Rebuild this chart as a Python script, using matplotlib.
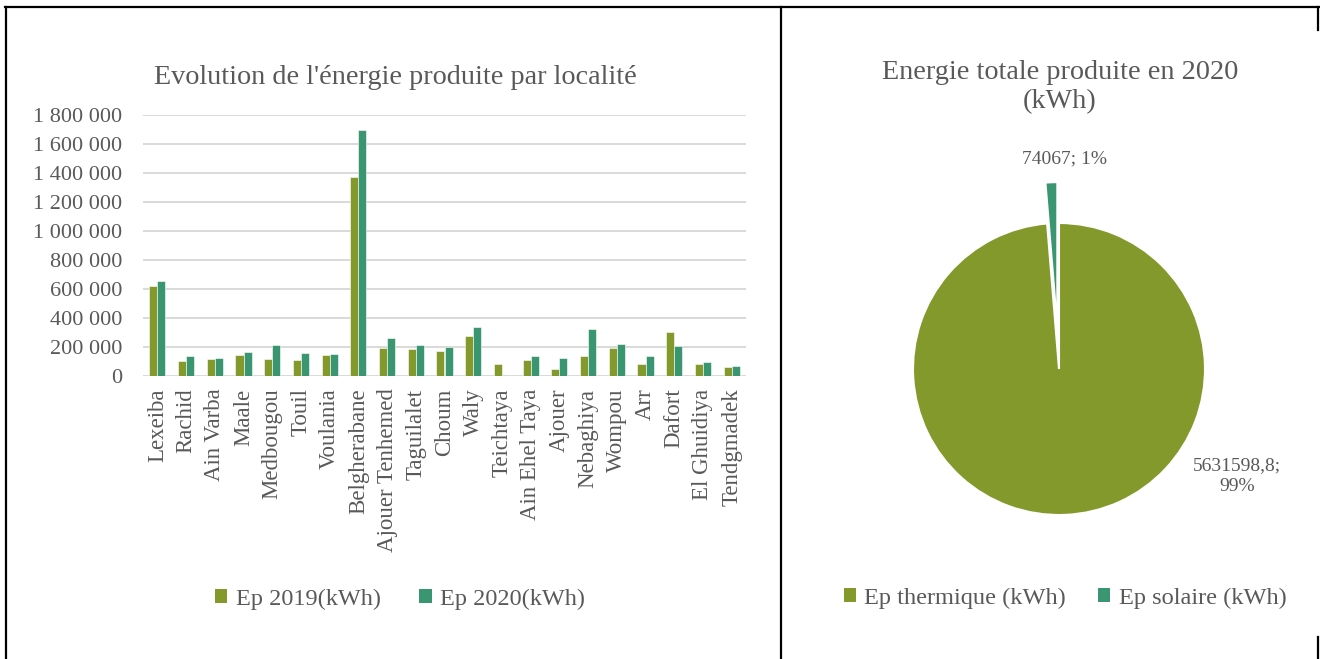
import matplotlib
matplotlib.use("Agg")
import matplotlib.pyplot as plt
from matplotlib.lines import Line2D
from matplotlib.patches import Patch
import numpy as np

# ---------------- data ----------------
localites = ["Lexeiba", "Rachid", "Ain Varba", "Maale", "Medbougou", "Touil", "Voulania",
             "Belgherabane", "Ajouer Tenhemed", "Taguilalet", "Choum", "Waly", "Teichtaya",
             "Ain Ehel Taya", "Ajouer", "Nebaghiya", "Wompou", "Arr", "Dafort",
             "El Ghuidiya", "Tendgmadek"]
ep_2019 = [623000, 101000, 115000, 148000, 115000, 112000, 143000,
           1370000, 193000, 184000, 170000, 279000, 81000,
           112000, 51000, 138000, 191000, 83000, 303000,
           81000, 60000]
ep_2020 = [653000, 136000, 122000, 166000, 212000, 161000, 154000,
           1695000, 260000, 216000, 198000, 336000, 8000,
           140000, 122000, 327000, 223000, 136000, 205000,
           94000, 67000]
yticks = [0, 200000, 400000, 600000, 800000, 1000000, 1200000, 1400000, 1600000, 1800000]
ytick_labels = ["0", "200 000", "400 000", "600 000", "800 000", "1 000 000",
                "1 200 000", "1 400 000", "1 600 000", "1 800 000"]

pie_labels = ["Ep thermique (kWh)", "Ep solaire (kWh)"]
pie_values = [5631598.8, 74067]
pie_texts = ["5631598,8;\n99%", "74067; 1%"]

C2019 = "#84992B"
C2020 = "#3A9670"
TXT = "#595959"
GRID = "#D9D9D9"
FONT = "Liberation Serif"

W, H = 1320, 659
fig = plt.figure(figsize=(W / 100, H / 100), dpi=100)
fig.patch.set_facecolor("white")

def fx(px):
    return px / W

def fy(py):
    return 1 - py / H

# ---------------- bar chart ----------------
ax = fig.add_axes([fx(143), fy(376), (746 - 143) / W, (376 - 115) / H])
x = np.arange(len(localites))
bw = 0.28
ax.bar(x - bw / 2, ep_2019, bw, color=C2019, edgecolor="white", linewidth=0.4, zorder=3)
ax.bar(x + bw / 2, ep_2020, bw, color=C2020, edgecolor="white", linewidth=0.4, zorder=3)
ax.set_xlim(-0.5, len(localites) - 0.5)
ax.set_ylim(0, 1800000)
ax.set_yticks(yticks)
ax.set_yticklabels(ytick_labels, fontfamily=FONT, fontsize=16, color=TXT)
ax.set_xticks(x)
ax.set_xticklabels(localites, rotation=90, fontfamily=FONT, fontsize=16.5, color=TXT)
ax.tick_params(axis="both", length=0)
ax.tick_params(axis="y", pad=15)
ax.tick_params(axis="x", pad=9)
for s in ax.spines.values():
    s.set_visible(False)
ax.yaxis.grid(True, color=GRID, linewidth=1.4, zorder=0)
ax.set_axisbelow(True)

fig.text(fx(395), fy(77), "Evolution de l'énergie produite par localité", ha="center", va="center",
         fontfamily=FONT, fontsize=20.3, color=TXT)

handles1 = [Patch(facecolor=C2019), Patch(facecolor=C2020)]
fig.legend(handles1, ["Ep 2019(kWh)", "Ep 2020(kWh)"], loc="center",
           bbox_to_anchor=(fx(400), fy(599)), ncol=2, frameon=False,
           prop={"family": FONT, "size": 17.5}, labelcolor=TXT,
           handlelength=0.5, handleheight=0.5, handletextpad=0.35, columnspacing=1.6)

# ---------------- pie chart ----------------
R = 146
cx, cy = 1059, 369
side = 3 * R
pax = fig.add_axes([fx(cx - side / 2), fy(cy + side / 2), side / W, side / H])
pax.pie(pie_values, colors=[C2019, C2020], startangle=90, counterclock=False,
        explode=[0, 0.28], radius=1,
        wedgeprops={"edgecolor": "white", "linewidth": 1.5})
pax.set_xlim(-1.5, 1.5)
pax.set_ylim(-1.5, 1.5)
pax.set_aspect("equal")
pax.axis("off")

fig.text(fx(1237), fy(476), pie_texts[0], ha="center", va="center", fontfamily=FONT,
         fontsize=14, color=TXT, linespacing=1.3)
fig.text(fx(1065), fy(159), pie_texts[1], ha="center", va="center", fontfamily=FONT,
         fontsize=14, color=TXT)

fig.text(fx(1060), fy(87), "Energie totale produite en 2020\n(kWh)", ha="center", va="center",
         fontfamily=FONT, fontsize=20.3, color=TXT, linespacing=1.2)

handles2 = [Patch(facecolor=C2019), Patch(facecolor=C2020)]
fig.legend(handles2, pie_labels, loc="center",
           bbox_to_anchor=(fx(1065), fy(598)), ncol=2, frameon=False,
           prop={"family": FONT, "size": 17.6}, labelcolor=TXT,
           handlelength=0.5, handleheight=0.5, handletextpad=0.35, columnspacing=1.3)

# ---------------- table borders ----------------
def fline(x0, y0, x1, y1):
    fig.add_artist(Line2D([fx(x0), fx(x1)], [fy(y0), fy(y1)], color="black", linewidth=1.6,
                          transform=fig.transFigure))

fline(5, 7, 1319, 7)
fline(6, 7, 6, 659)
fline(781, 7, 781, 659)
fline(1318, 7, 1318, 30)
fline(1318, 637, 1318, 659)

fig.savefig("out.png", dpi=100, facecolor="white")
